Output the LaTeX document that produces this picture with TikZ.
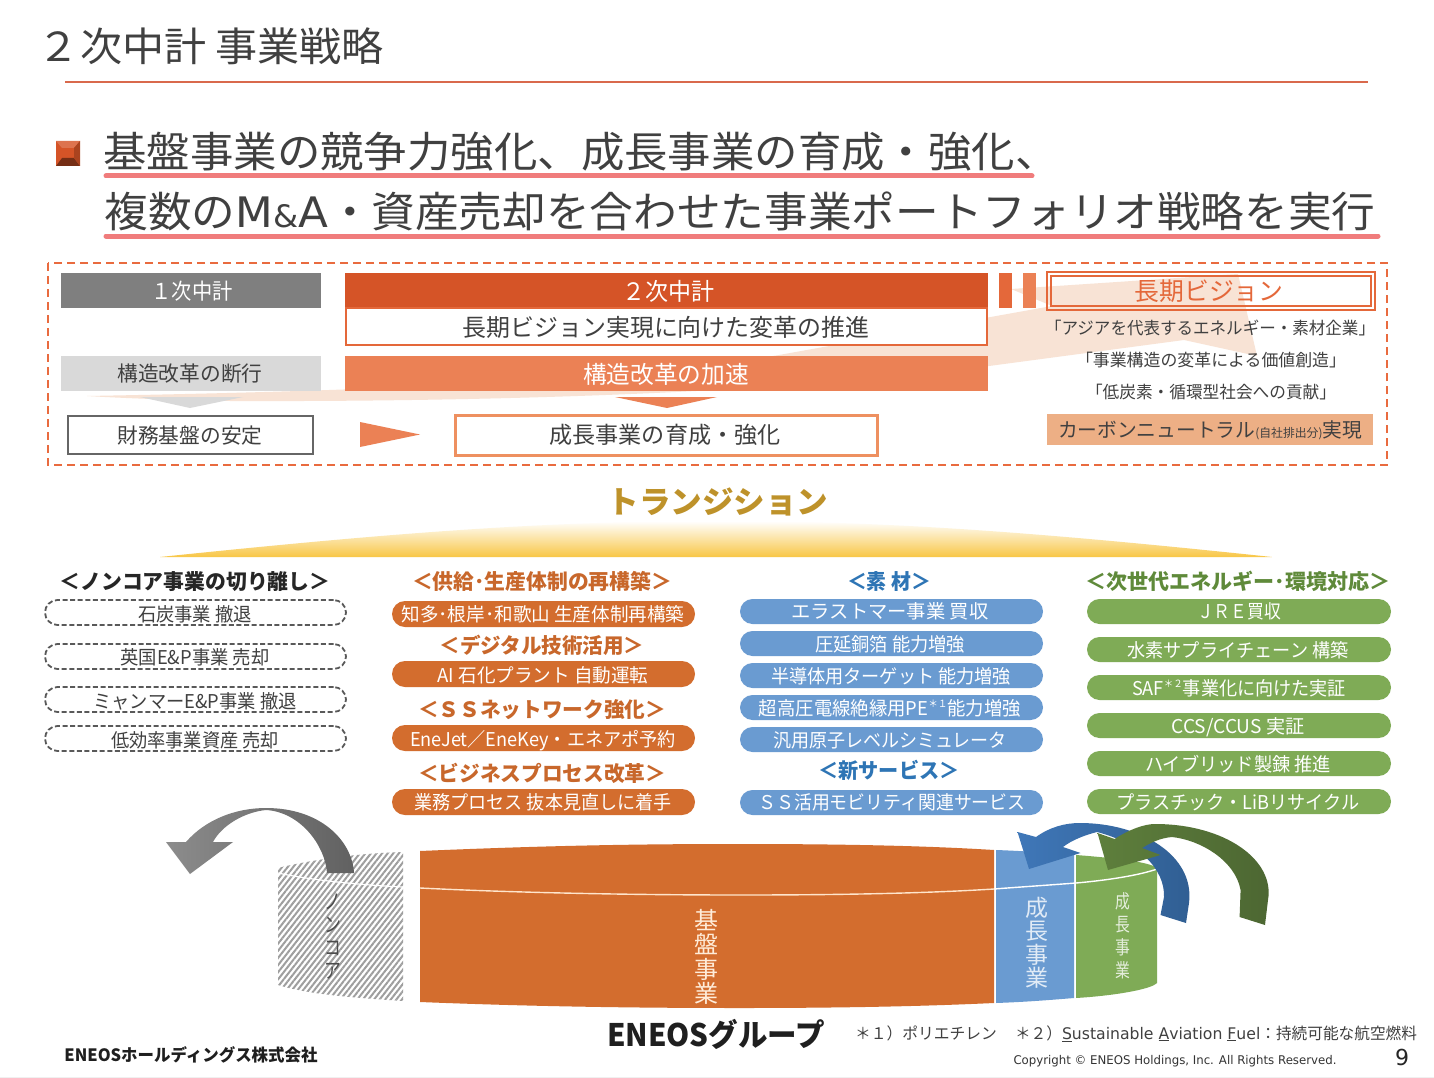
\documentclass[tikz,border=0pt]{standalone}
\usepackage{fontspec}
\usepackage{graphicx}
\setmainfont{Noto Sans CJK JP}
\newfontfamily\lat{DejaVu Sans}
\usetikzlibrary{patterns.meta}
\definecolor{ink}{HTML}{404040}
\definecolor{rulec}{HTML}{D9694C}
\definecolor{pinkl}{HTML}{F07C7C}
\definecolor{dashc}{HTML}{E96B3F}
\definecolor{gr1}{HTML}{7F7F7F}
\definecolor{gr2}{HTML}{D9D9D9}
\definecolor{or1}{HTML}{D55427}
\definecolor{or2}{HTML}{EB8155}
\definecolor{or3}{HTML}{EE9060}
\definecolor{or4}{HTML}{E4683A}
\definecolor{peach}{HTML}{EDAF85}
\definecolor{pale}{HTML}{F8E3D5}
\definecolor{gold}{HTML}{BE922A}
\definecolor{cOr}{HTML}{D36D2E}
\definecolor{cBl}{HTML}{6A9BD1}
\definecolor{cGr}{HTML}{7FAB56}
\definecolor{hOr}{HTML}{C8672B}
\definecolor{hBl}{HTML}{2E75B5}
\definecolor{hGr}{HTML}{5F8A3A}
\definecolor{lensb}{HTML}{F8C645}
\newcommand\fs[1]{\fontsize{#1}{#1}\selectfont}
\newcommand\supx[1]{\raisebox{.42em}{\fs{10}#1}}
\tikzset{
  txt/.style={inner sep=0pt,outer sep=0pt,text=ink},
  bxs/.style={inner sep=0pt,outer sep=0pt},
  pillOr/.style={bxs,fill=cOr,rounded corners=13pt},
  pillBl/.style={bxs,fill=cBl,rounded corners=12.5pt},
  pillGr/.style={bxs,fill=cGr,rounded corners=12.5pt},
  pillDa/.style={bxs,draw=black!65,line width=1.8pt,dash pattern=on 5pt off 2.6pt,rounded corners=12.5pt},
  pillT/.style={txt,text=white,font=\fs{19}},
  daT/.style={txt,font=\fs{19}},
  headT/.style={txt,font=\fs{21}\bfseries},
  visT/.style={txt,font=\fs{17}}
}
% \bx{name}{x1}{y1}{x2}{y2}{style}
\newcommand\bx[6]{\pgfmathsetmacro\bw{#4-#2}\pgfmathsetmacro\bh{#5-#3}\pgfmathsetmacro\bcx{(#2+#4)/2}\pgfmathsetmacro\bcy{(#3+#5)/2}%
  \node[bxs,minimum width=\bw pt,minimum height=\bh pt,#6] (#1) at (\bcx,\bcy) {};}
% \tx{name}{cx}{cy}{width}{style}{text}
\newcommand\tx[6]{\node[txt,#5] (#1) at (#2,#3) {\raisebox{0pt}[.88em][.12em]{\resizebox{#4pt}{\height}{#6}}};}
\begin{document}
\begin{tikzpicture}[x=1pt,y=-1pt]
\useasboundingbox (0,0) rectangle (1434,1078);
\fill[white] (0,0) rectangle (1434,1078);
\fill[black!6] (0,1076.5) rectangle (1434,1078);

% title
\tx{title}{211}{46}{346}{font=\fs{40}}{２次中計 事業戦略}
\draw[rulec,line width=2pt] (65,82) -- (1368,82);

% bullet
\fill[or1] (56,141) rectangle (80,166);
\fill[black!45!or1] (56,166) -- (80,166) -- (74,158) -- (62,158) -- cycle;
\fill[white!18!or1] (56,141) -- (80,141) -- (74,148) -- (62,148) -- cycle;
\fill[black!20!or1] (80,141) -- (80,166) -- (74,158) -- (74,148) -- cycle;

% headline
\draw[pinkl,line width=5pt,line cap=round] (106,176) -- (1032,176);
\draw[pinkl,line width=5pt,line cap=round] (106,236) -- (1378,236);
\tx{head1}{581}{152}{955}{font=\fs{42}}{基盤事業の競争力強化、成長事業の育成・強化、}
\tx{head2}{740}{212}{1271}{font=\fs{42}}{複数の{\lat M{\fs{31}\&}A}・資産売却を合わせた事業ポートフォリオ戦略を実行}

% pale sweep arrow
\fill[pale] (87,396) .. controls (300,392) and (600,385) .. (779,355) -- (1052,306) -- (1011,289) -- (1238,274) -- (1257,356) -- (1184,340) -- (989,366) .. controls (800,392) and (500,402) .. (230,401) .. controls (170,400) and (120,398) .. (87,396) -- cycle;

% dashed frame
\draw[dashc,line width=2pt,dash pattern=on 8pt off 5pt] (48,263) rectangle (1387,465);

% upper panel
\bx{p1}{61}{273}{321}{308}{fill=gr1}
\tx{p1t}{192}{291}{81}{text=white,font=\fs{22}}{１次中計}
\bx{p2}{345}{273}{988}{308}{fill=or1}
\tx{p2t}{668}{291}{92}{text=white,font=\fs{24}}{２次中計}
\bx{p3}{346}{308}{987}{345}{fill=white,draw=or4,line width=2pt}
\tx{p3t}{666}{327}{407}{font=\fs{24}}{長期ビジョン実現に向けた変革の推進}
\bx{p4}{61}{356}{321}{391}{fill=gr2}
\tx{p4t}{190}{374}{145}{font=\fs{21}}{構造改革の断行}
\bx{p5}{345}{356}{988}{391}{fill=or2}
\tx{p5t}{666}{374}{166}{text=white,font=\fs{24}}{構造改革の加速}
\fill[gr2] (140,397) -- (243,397) -- (190,408) -- cycle;
\fill[or2] (615,397) -- (717,397) -- (667,408) -- cycle;
\bx{p6}{68}{416}{313}{454}{fill=white,draw=black!60,line width=2pt}
\tx{p6t}{190}{436}{145}{font=\fs{21}}{財務基盤の安定}
\fill[or2] (360,422) -- (360,447) -- (420,434.5) -- cycle;
\bx{p7}{455}{415}{877}{455}{fill=white,draw=or3,line width=3pt}
\tx{p7t}{665}{435}{231}{font=\fs{23}}{成長事業の育成・強化}
\fill[or4] (999,273) rectangle (1012,308);
\fill[or2] (1023,273) rectangle (1036,308);
\bx{v1}{1047}{272}{1375}{310}{draw=or4,line width=2pt}
\bx{v2}{1051}{276}{1371}{306}{draw=or4,line width=1.4pt}
\tx{v1t}{1209}{291}{149}{text=or4,font=\fs{25}}{長期ビジョン}
\tx{v3}{1210}{328}{330}{visT}{「アジアを代表するエネルギー・素材企業」}
\tx{v4}{1211}{360}{270}{visT}{「事業構造の変革による価値創造」}
\tx{v5}{1211}{392}{250}{visT}{「低炭素・循環型社会への貢献」}
\bx{v6}{1047}{414}{1373}{445}{fill=peach}
\tx{v6t}{1210}{430}{304}{font=\fs{20}}{カーボンニュートラル{\fs{12}(自社排出分)}実現}

% transition
\tx{tr}{718}{502}{221}{text=gold,font=\fs{31}\bfseries}{トランジション}
\shade[top color=white,bottom color=lensb] (160,557) .. controls (400,532) and (550,521) .. (718,521) .. controls (886,521) and (1036,532) .. (1272,557) -- cycle;

% column 1
\tx{h1}{195}{582}{271}{headT,text=black!85}{＜ノンコア事業の切り離し＞}
\bx{a1}{45}{600}{346}{625}{pillDa}
\tx{a1t}{195}{614}{114}{daT}{石炭事業 撤退}
\bx{a2}{45}{644}{346}{669}{pillDa}
\tx{a2t}{195}{657}{149}{daT}{英国E\&P事業 売却}
\bx{a3}{45}{687}{346}{712}{pillDa}
\tx{a3t}{195}{701}{203}{daT}{ミャンマーE\&P事業 撤退}
\bx{a4}{45}{726}{346}{751}{pillDa}
\tx{a4t}{195}{740}{168}{daT}{低効率事業資産 売却}

% column 2
\tx{h2}{542}{582}{260}{headT,text=hOr}{＜供給･生産体制の再構築＞}
\bx{b1}{392}{601}{695}{627}{pillOr}
\tx{b1t}{543}{614}{283}{pillT}{知多･根岸･和歌山 生産体制再構築}
\tx{h3}{542}{646}{205}{headT,text=hOr}{＜デジタル技術活用＞}
\bx{b2}{392}{661}{695}{687}{pillOr}
\tx{b2t}{543}{675}{211}{pillT}{AI 石化プラント 自動運転}
\tx{h4}{542}{710}{248}{headT,text=hOr}{＜ＳＳネットワーク強化＞}
\bx{b3}{392}{725}{695}{751}{pillOr}
\tx{b3t}{543}{739}{266}{pillT}{EneJet／EneKey・エネアポ予約}
\tx{h5}{542}{774}{248}{headT,text=hOr}{＜ビジネスプロセス改革＞}
\bx{b4}{392}{789}{695}{815}{pillOr}
\tx{b4t}{543}{802}{257}{pillT}{業務プロセス 抜本見直しに着手}

% column 3
\tx{h6}{889}{582}{84}{headT,text=hBl}{＜素 材＞}
\bx{c1}{740}{599}{1043}{624}{pillBl}
\tx{c1t}{890}{611}{197}{pillT}{エラストマー事業 買収}
\bx{c2}{740}{631}{1043}{656}{pillBl}
\tx{c2t}{890}{644}{150}{pillT}{圧延銅箔 能力増強}
\bx{c3}{740}{663}{1043}{688}{pillBl}
\tx{c3t}{891}{676}{240}{pillT}{半導体用ターゲット 能力増強}
\bx{c4}{740}{695}{1043}{720}{pillBl}
\tx{c4t}{890}{708}{262}{pillT}{超高圧電線絶縁用PE\supx{＊１}能力増強}
\bx{c5}{740}{727}{1043}{752}{pillBl}
\tx{c5t}{890}{740}{234}{pillT}{汎用原子レベルシミュレータ}
\tx{h7}{889}{771}{141}{headT,text=hBl}{＜新サービス＞}
\bx{c6}{740}{790}{1043}{815}{pillBl}
\tx{c6t}{892}{802}{267}{pillT}{ＳＳ活用モビリティ関連サービス}

% column 4
\tx{h8}{1238}{582}{305}{headT,text=hGr}{＜次世代エネルギー･環境対応＞}
\bx{d1}{1087}{599}{1391}{624}{pillGr}
\tx{d1t}{1239}{611}{84}{pillT}{ＪＲＥ買収}
\bx{d2}{1087}{637}{1391}{662}{pillGr}
\tx{d2t}{1238}{650}{221}{pillT}{水素サプライチェーン 構築}
\bx{d3}{1087}{675}{1391}{700}{pillGr}
\tx{d3t}{1239}{688}{214}{pillT}{SAF\supx{＊２}事業化に向けた実証}
\bx{d4}{1087}{713}{1391}{738}{pillGr}
\tx{d4t}{1238}{726}{133}{pillT}{CCS/CCUS 実証}
\bx{d5}{1087}{751}{1391}{776}{pillGr}
\tx{d5t}{1238}{764}{186}{pillT}{ハイブリッド製錬 推進}
\bx{d6}{1087}{789}{1391}{814}{pillGr}
\tx{d6t}{1238}{802}{243}{pillT}{プラスチック・LiBリサイクル}

% cylinder: non-core
\path[pattern={Lines[angle=52,distance=4.4pt,line width=2pt]},pattern color=black!38] (278,868) .. controls (310,860) and (360,853) .. (403,852) -- (403,1001) .. controls (360,998) and (310,995) .. (278,985) -- cycle;
\draw[white,line width=1.2pt] (278,873) .. controls (310,880) and (360,885) .. (403,887);
\node[txt,text=black!70,align=center,xscale=.8,font=\fontsize{21}{23}\selectfont] (nc) at (333,937) {ノ\\ン\\コ\\ア};

% cylinder: main
\fill[cOr] (420,851) .. controls (560,845) and (650,844) .. (740,844) .. controls (850,844) and (930,846) .. (994,850) -- (994,1003) .. controls (930,1006) and (850,1008) .. (740,1008) .. controls (620,1008) and (520,1006) .. (420,1002) -- cycle;
\fill[cBl] (996,850) .. controls (1025,851) and (1050,853) .. (1074,855) -- (1074,998) .. controls (1050,1000) and (1025,1002) .. (996,1003) -- cycle;
\fill[cGr] (1076,855) .. controls (1115,858) and (1150,862) .. (1157,868) -- (1157,983) .. controls (1150,990) and (1110,996) .. (1076,998) -- cycle;
\draw[white!80!orange,line width=1.4pt] (420,888) .. controls (520,893) and (640,895) .. (740,895) .. controls (850,895) and (930,893) .. (994,889);
\draw[white,line width=1.4pt] (994,889) .. controls (1020,887) and (1050,885) .. (1076,883) .. controls (1110,880) and (1140,875) .. (1157,869);
\node[txt,text=white!85!orange,align=center,font=\fontsize{24}{24.3}\selectfont] (base) at (706,957) {基\\盤\\事\\業};
\node[txt,text=white!80!cBl,align=center,font=\fontsize{23}{23.5}\selectfont] (gb) at (1037,943) {成\\長\\事\\業};
\node[txt,text=white!80!cGr,align=center,xscale=.78,font=\fontsize{19}{23}\selectfont] (gg) at (1123,936) {成\\長\\事\\業};

% swoop arrows
\shade[left color=black!45,right color=black!62] (190,874) -- (166,842) -- (186,842) .. controls (205,820) and (235,808) .. (266,808) .. controls (320,808) and (352,840) .. (354,873) -- (327,873) .. controls (325,845) and (300,812) .. (266,810) .. controls (245,812) and (222,825) .. (213,842) -- (233,842) -- cycle;
\definecolor{bl1}{HTML}{3F77B8}\definecolor{bl2}{HTML}{305E92}
\definecolor{gn1}{HTML}{5E7F3C}\definecolor{gn2}{HTML}{4C6632}
\shade[left color=bl1,right color=bl2] (1029,869) -- (1017.5,832) -- (1036,837) .. controls (1050,827) and (1065,823) .. (1080,823) .. controls (1140,823) and (1195,855) .. (1189,903) -- (1186,923) -- (1160.5,915) -- (1164,897) .. controls (1165,870) and (1140,843) .. (1097,832) .. controls (1085,835) and (1072,840) .. (1063,847) -- (1080.5,853) -- cycle;
\shade[left color=gn1,right color=gn2] (1108,870) -- (1097.5,833) -- (1114.6,839) .. controls (1130,829) and (1145,824) .. (1155,824) .. controls (1225,824) and (1275,860) .. (1268,900) -- (1265,925) -- (1239.6,917) -- (1240.6,890) .. controls (1235,860) and (1200,840) .. (1172,837) .. controls (1160,838) and (1150,843) .. (1142,848) -- (1160.5,855) -- cycle;

% footer
\tx{logo}{716}{1035}{218}{text=black!88,font=\fs{31}\bfseries}{ENEOSグループ}
\tx{hold}{191}{1055}{253}{text=black!88,font=\fs{17}\bfseries}{ENEOSホールディングス株式会社}
\tx{fn1}{926}{1033}{142}{font=\fs{16}}{＊１）ポリエチレン}
\tx{fn2}{1216}{1033}{402}{font=\fs{16}}{＊２）{\lat\underline{S}ustainable \underline{A}viation \underline{F}uel}：持続可能な航空燃料}
\tx{copy}{1175}{1060}{323}{text=black!80,font=\lat\fs{12}}{Copyright © ENEOS Holdings, Inc. All Rights Reserved.}
\tx{pg}{1402}{1057}{14}{text=black!85,font=\lat\fs{22}}{9}
\end{tikzpicture}
\end{document}
